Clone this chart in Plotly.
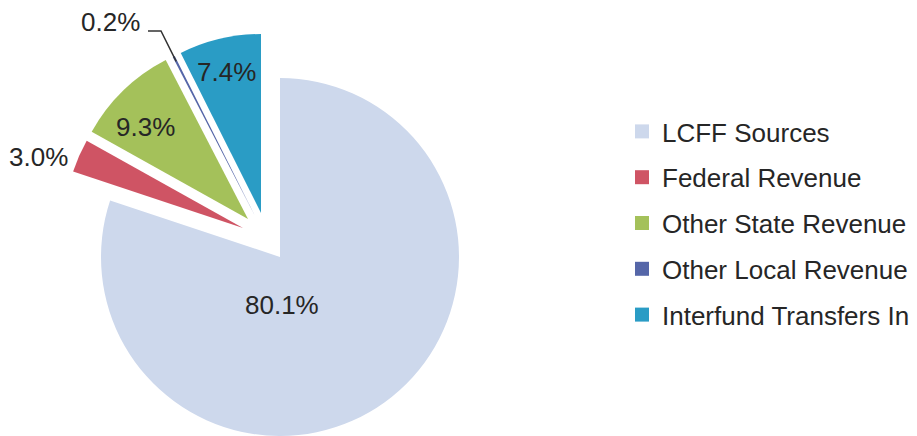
import math
import plotly.graph_objects as go

# Revenue sources (percent of total)
labels = ["LCFF Sources", "Federal Revenue", "Other State Revenue",
          "Other Local Revenue", "Interfund Transfers In"]
values = [80.1, 3.0, 9.3, 0.2, 7.4]
colors = ["#cdd8ec", "#cf5464", "#a4c15a", "#5566a8", "#2a9cc5"]

W, H = 917, 436
R = 179  # pie radius in px

# Apex of each (exploded) slice, in px from the top-left corner
apex = [(280, 257), (243, 228), (248, 219), (255, 216), (261, 213)]

# Where each percentage label sits, in px
label_pos = [(282, 305), (38, 157), (145, 127), (110, 22), (226, 72)]

FONT = "Liberation Sans, Arial, sans-serif"
TXT = "#262626"


def domain_for(cx, cy):
    x0 = max(0.0, (cx - R) / W)
    x1 = min(1.0, (cx + R) / W)
    y0 = max(0.0, 1 - (cy + R) / H)
    y1 = min(1.0, 1 - (cy - R) / H)
    return dict(x=[x0, x1], y=[y0, y1])


fig = go.Figure()

# One pie per slice so each can be shifted on its own; the other slices
# in that trace are left transparent.
for k in range(len(values)):
    slice_colors = [c if i == k else "rgba(0,0,0,0)" for i, c in enumerate(colors)]
    fig.add_trace(go.Pie(
        labels=labels, values=values, sort=False, direction="clockwise",
        rotation=0, textinfo="none", hoverinfo="skip", showlegend=False,
        marker=dict(colors=slice_colors, line=dict(width=0)),
        domain=domain_for(*apex[k]),
    ))

# Legend entries
for lab, col in zip(labels, colors):
    fig.add_trace(go.Scatter(
        x=[None], y=[None], mode="markers", name=lab, legendgroup=lab,
        marker=dict(symbol="square", size=14, color=col),
    ))

# Percentage labels
total = sum(values)
for k, (v, (px, py)) in enumerate(zip(values, label_pos)):
    fig.add_annotation(
        x=px / W, y=1 - py / H, xref="paper", yref="paper",
        text=f"{v / total * 100:.1f}%", showarrow=False,
        xanchor="center", yanchor="middle",
        font=dict(family=FONT, size=26, color=TXT),
    )

# Leader line for the thin "Other Local Revenue" slice
start = sum(values[:3]) / total * 360
theta = math.radians(start + values[3] / total * 360 / 2)
cx, cy = apex[3]
tip_x = cx + 0.97 * R * math.sin(theta)
tip_y = cy - 0.97 * R * math.cos(theta)
pts = [(148, 31), (161, 31), (tip_x, tip_y)]
path = "M " + " L ".join(f"{x / W},{1 - y / H}" for x, y in pts)
fig.add_shape(type="path", path=path, xref="paper", yref="paper",
              line=dict(color="#333333", width=1.5))

fig.update_layout(
    width=W, height=H,
    margin=dict(l=0, r=0, t=0, b=0),
    paper_bgcolor="white", plot_bgcolor="white",
    xaxis=dict(visible=False), yaxis=dict(visible=False),
    legend=dict(
        x=622 / W, y=1 - 108 / H, xanchor="left", yanchor="top",
        font=dict(family=FONT, size=26, color=TXT),
        traceorder="grouped", tracegroupgap=9,
        bgcolor="rgba(0,0,0,0)",
    ),
)

fig.write_html("out.html")
